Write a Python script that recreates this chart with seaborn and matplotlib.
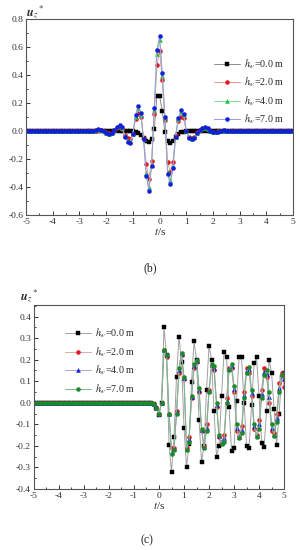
import numpy as np
import seaborn as sns
import matplotlib.pyplot as plt
from matplotlib.ticker import MultipleLocator

sns.set_style("ticks")
plt.rcParams['font.family'] = ['Liberation Serif', 'DejaVu Serif']
plt.rcParams['mathtext.fontset'] = 'stix'
plt.rcParams['axes.unicode_minus'] = False

# time axis, -5 .. 5 s, step 0.1 s
t = np.round(np.linspace(-5, 5, 101), 1)

# ---- panel (b) ----
b_h0 = [
    0, 0, 0, 0, 0, 0, 0, 0, 0, 0,
    0, 0, 0, 0, 0, 0, 0, 0, 0, 0,
    0, 0, 0, 0, 0, 0, 0, 0, 0, 0,
    0, 0, 0, 0, 0, 0, 0, 0, 0, 0,
    0, -0.005, -0.015, -0.03, -0.05, -0.075, -0.08, -0.06, 0.01, 0.25,
    0.25, 0.14, -0.01, -0.075, -0.085, -0.07, -0.04, -0.02, -0.01, -0.005,
    0, 0, 0, 0, 0, 0, 0, 0, 0, 0,
    0, 0, 0, 0, 0, 0, 0, 0, 0, 0,
    0, 0, 0, 0, 0, 0, 0, 0, 0, 0,
    0, 0, 0, 0, 0, 0, 0, 0, 0, 0,
    0]
b_h2 = [
    0, 0, 0, 0, 0, 0, 0, 0, 0, 0,
    0, 0, 0, 0, 0, 0, 0, 0, 0, 0,
    0, 0, 0, 0, 0, 0, 0.002, 0.006, 0.005, -0.002,
    -0.01, -0.016, -0.012, 0.003, 0.02, 0.03, 0.015, -0.03, -0.05, -0.06,
    -0.02, 0.085, 0.13, 0.10, -0.05, -0.235, -0.34, -0.215, 0.12, 0.47,
    0.57, 0.36, 0.08, -0.22, -0.29, -0.22, -0.03, 0.07, 0.10, 0.09,
    0.0, -0.04, -0.05, -0.04, -0.01, 0.003, 0.015, 0.018, 0.012, 0.0,
    -0.005, -0.006, -0.003, 0.001, 0.001, 0, 0, 0, 0, 0,
    0, 0, 0, 0, 0, 0, 0, 0, 0, 0,
    0, 0, 0, 0, 0, 0, 0, 0, 0, 0,
    0]
b_h4 = [
    0, 0, 0, 0, 0, 0, 0, 0, 0, 0,
    0, 0, 0, 0, 0, 0, 0, 0, 0, 0,
    0, 0, 0, 0, 0, 0, 0.003, 0.008, 0.006, -0.003,
    -0.012, -0.02, -0.015, 0.004, 0.025, 0.035, 0.02, -0.035, -0.07, -0.075,
    -0.02, 0.10, 0.16, 0.11, -0.06, -0.30, -0.40, -0.24, 0.15, 0.55,
    0.645, 0.39, 0.09, -0.29, -0.35, -0.25, -0.04, 0.085, 0.135, 0.11,
    0.0, -0.045, -0.055, -0.045, -0.012, 0.004, 0.018, 0.022, 0.015, 0.0,
    -0.006, -0.008, -0.004, 0.002, 0.002, 0, 0, 0, 0, 0,
    0, 0, 0, 0, 0, 0, 0, 0, 0, 0,
    0, 0, 0, 0, 0, 0, 0, 0, 0, 0,
    0]
b_h7 = [
    0, 0, 0, 0, 0, 0, 0, 0, 0, 0,
    0, 0, 0, 0, 0, 0, 0, 0, 0, 0,
    0, 0, 0, 0, 0, 0, 0.004, 0.01, 0.008, -0.004,
    -0.015, -0.025, -0.018, 0.005, 0.03, 0.04, 0.025, -0.04, -0.08, -0.085,
    -0.02, 0.11, 0.18, 0.125, -0.06, -0.32, -0.43, -0.25, 0.16, 0.58,
    0.675, 0.41, 0.10, -0.31, -0.38, -0.265, -0.04, 0.09, 0.15, 0.12,
    0.0, -0.05, -0.06, -0.05, -0.015, 0.005, 0.02, 0.025, 0.018, 0.0,
    -0.008, -0.01, -0.005, 0.002, 0.003, 0, 0, 0, 0, 0,
    0, 0, 0, 0, 0, 0, 0, 0, 0, 0,
    0, 0, 0, 0, 0, 0, 0, 0, 0, 0,
    0]

# ---- panel (c) ----
c_h0 = [
    0, 0, 0, 0, 0, 0, 0, 0, 0, 0,
    0, 0, 0, 0, 0, 0, 0, 0, 0, 0,
    0, 0, 0, 0, 0, 0, 0, 0, 0, 0,
    0, 0, 0, 0, 0, 0, 0, 0, 0, 0,
    0, 0, 0, 0, 0, 0, 0, -0.002, -0.008, -0.025,
    -0.057, 0.0, 0.35, 0.22, -0.195, -0.32, -0.16, 0.12, 0.307, 0.19,
    -0.115, -0.30, -0.19, 0.094, 0.285, 0.2, -0.08, -0.275, -0.2, 0.06,
    0.264, 0.2, -0.04, -0.25, -0.2, 0.03, 0.237, 0.21, -0.02, -0.223,
    -0.208, 0.01, 0.21, 0.21, 0.0, -0.2, -0.208, -0.01, 0.185, 0.21,
    0.03, -0.185, -0.205, -0.04, 0.2, 0.14, -0.03, -0.197, -0.053, 0.12,
    0.14]
c_h2 = [
    0, 0, 0, 0, 0, 0, 0, 0, 0, 0,
    0, 0, 0, 0, 0, 0, 0, 0, 0, 0,
    0, 0, 0, 0, 0, 0, 0, 0, 0, 0,
    0, 0, 0, 0, 0, 0, 0, 0, 0, 0,
    0, 0, 0, 0, 0, 0, 0, -0.002, -0.008, -0.025,
    -0.05, 0.0, 0.245, 0.21, -0.05, -0.21, -0.21, -0.04, 0.14, 0.22,
    0.11, -0.21, -0.16, 0.02, 0.16, 0.19, 0.05, -0.13, -0.20, -0.10,
    0.06, 0.17, 0.15, -0.02, -0.16, -0.18, -0.15, 0.02, 0.16, 0.16,
    0.05, -0.13, -0.155, -0.11, 0.05, 0.16, 0.14, 0.03, -0.12, -0.15,
    -0.08, 0.06, 0.16, 0.12, 0.0, -0.13, -0.14, -0.05, 0.09, 0.14,
    0.075]
c_h4 = [
    0, 0, 0, 0, 0, 0, 0, 0, 0, 0,
    0, 0, 0, 0, 0, 0, 0, 0, 0, 0,
    0, 0, 0, 0, 0, 0, 0, 0, 0, 0,
    0, 0, 0, 0, 0, 0, 0, 0, 0, 0,
    0, 0, 0, 0, 0, 0, 0, -0.002, -0.008, -0.025,
    -0.05, 0.0, 0.245, 0.22, -0.05, -0.23, -0.215, -0.045, 0.15, 0.225,
    0.115, -0.215, -0.17, 0.025, 0.17, 0.195, 0.06, -0.125, -0.205, -0.115,
    0.055, 0.175, 0.16, -0.01, -0.155, -0.185, -0.165, 0.01, 0.155, 0.17,
    0.065, -0.115, -0.16, -0.125, 0.035, 0.15, 0.155, 0.045, -0.11, -0.155,
    -0.1, 0.04, 0.145, 0.135, 0.025, -0.115, -0.148, -0.07, 0.07, 0.135,
    0.11]
c_h7 = [
    0, 0, 0, 0, 0, 0, 0, 0, 0, 0,
    0, 0, 0, 0, 0, 0, 0, 0, 0, 0,
    0, 0, 0, 0, 0, 0, 0, 0, 0, 0,
    0, 0, 0, 0, 0, 0, 0, 0, 0, 0,
    0, 0, 0, 0, 0, 0, 0, -0.002, -0.008, -0.025,
    -0.05, 0.0, 0.245, 0.22, -0.05, -0.24, -0.22, -0.05, 0.16, 0.23,
    0.12, -0.22, -0.18, 0.03, 0.18, 0.2, 0.07, -0.12, -0.21, -0.13,
    0.05, 0.18, 0.17, 0.0, -0.15, -0.19, -0.18, 0.0, 0.15, 0.18,
    0.08, -0.1, -0.165, -0.14, 0.02, 0.14, 0.167, 0.06, -0.1, -0.158,
    -0.12, 0.02, 0.13, 0.15, 0.05, -0.1, -0.153, -0.09, 0.05, 0.13,
    0.135]

labels = ['0.0', '2.0', '4.0', '7.0']

fig = plt.figure(figsize=(3.0, 5.5), dpi=100)
ax1 = fig.add_axes([0.087, 0.609, 0.89, 0.357])
ax2 = fig.add_axes([0.113, 0.111, 0.834, 0.335])

# (values, marker, marker colour, line colour)
series_b = [(b_h0, 's', 'black', '#8c8c8c'),
            (b_h2, 'o', '#e8141e', '#e89a9a'),
            (b_h4, '^', '#18c040', '#8cd89c'),
            (b_h7, 'o', '#1020d8', '#9a9ae0')]
series_c = [(c_h0, 's', 'black', '#a0a0a0'),
            (c_h2, 'o', '#e8141e', '#e0a8a8'),
            (c_h4, '^', '#1020d8', '#a8a8d8'),
            (c_h7, 'o', '#1a8a2a', '#78b880')]

for ax, series in [(ax1, series_b), (ax2, series_c)]:
    for (vals, mk, mc, lc), lab in zip(series, labels):
        sns.lineplot(x=t, y=vals, ax=ax, color=lc, linewidth=0.7,
                     marker=mk, markersize=2.9, markerfacecolor=mc,
                     markeredgecolor=mc, markeredgewidth=0.3,
                     label=r'$h_w$=' + lab + ' m')

ax1.set_xlim(-5, 5)
ax1.set_ylim(-0.6, 0.8)
ax1.yaxis.set_major_locator(MultipleLocator(0.2))
ax1.yaxis.set_minor_locator(MultipleLocator(0.1))
ax2.set_xlim(-5, 5)
ax2.set_ylim(-0.4, 0.455)
ax2.set_yticks([-0.4, -0.3, -0.2, -0.1, 0.0, 0.1, 0.2, 0.3, 0.4])
ax2.yaxis.set_minor_locator(MultipleLocator(0.05))

for ax in (ax1, ax2):
    ax.xaxis.set_major_locator(MultipleLocator(1))
    ax.xaxis.set_minor_locator(MultipleLocator(0.5))
    ax.yaxis.set_major_formatter(plt.FormatStrFormatter('%.1f'))
    ax.xaxis.set_major_formatter(plt.FormatStrFormatter('%d'))
    ax.tick_params(which='major', direction='in', length=3, width=0.7,
                   labelsize=6.8, colors='#333333', pad=2)
    ax.tick_params(which='minor', direction='in', length=1.6, width=0.6)
    for s in ax.spines.values():
        s.set_linewidth(0.8)
        s.set_color('#555555')
    ax.set_xlabel(r'$t$/s', fontsize=8, labelpad=0)
    ax.set_ylabel('')

ax1.legend(loc='upper right', bbox_to_anchor=(1.0, 0.85), frameon=False,
           fontsize=7.2, handlelength=2.6, labelspacing=0.5, handletextpad=0.4)
ax2.legend(loc='upper left', bbox_to_anchor=(0.09, 0.93), frameon=False,
           fontsize=7.2, handlelength=2.6, labelspacing=0.5, handletextpad=0.4)

fig.text(0.085, 0.978, r'$\mathbfit{u}_z$$^*$', fontsize=9, ha='left', va='center')
fig.text(0.065, 0.462, r'$\mathbfit{u}_z$$^*$', fontsize=9, ha='left', va='center')
fig.text(0.5, 0.513, '(b)', fontsize=8.5, ha='center', va='center')
fig.text(0.49, 0.018, '(c)', fontsize=8.5, ha='center', va='center')

fig.savefig('out.png', dpi=100)
